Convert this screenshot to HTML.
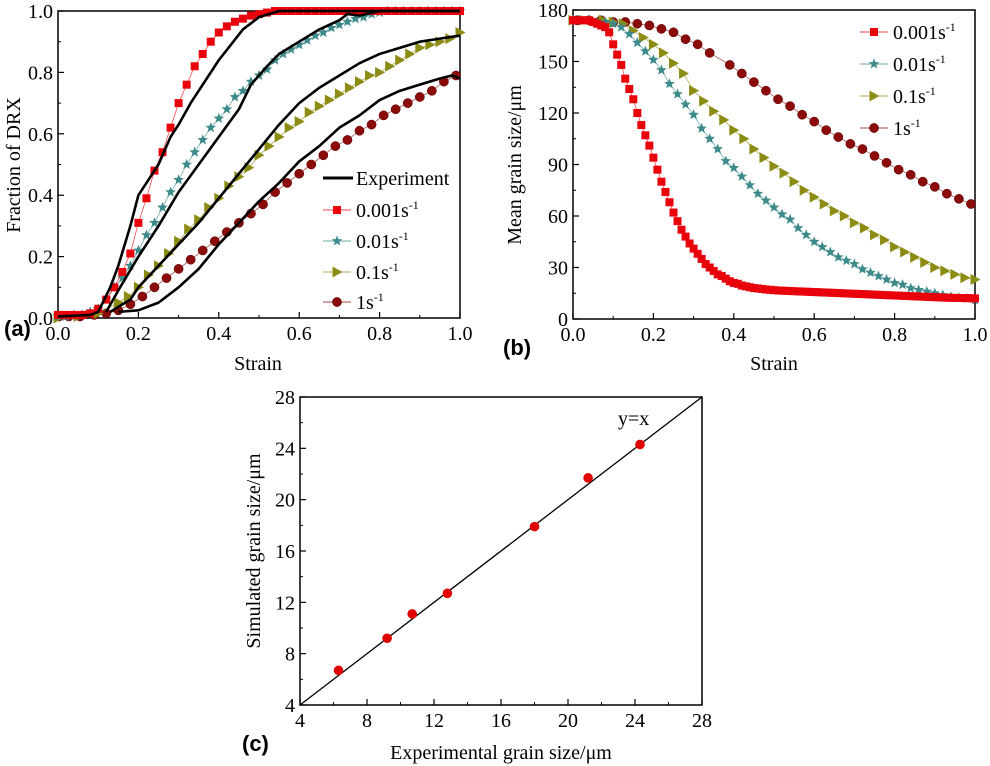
<!DOCTYPE html>
<html><head><meta charset="utf-8"><style>
body{margin:0;background:#fff;}
svg{display:block;font-family:"Liberation Serif",serif;}
</style></head><body>
<svg id="s" width="990" height="766" viewBox="0 0 990 766"></svg>
<script>
// ---------- Panel (a) data ----------
const aRedX=[0,0.02,0.04,0.06,0.08,0.10,0.12,0.14,0.16,0.18,0.20,0.22,0.24,0.26,0.28,0.30,0.32,0.34,0.36,0.38,0.40,0.42,0.44,0.46,0.48,0.50,0.52,0.54,0.56,0.58,0.60,0.62,0.64,0.66,0.68,0.70,0.72,0.74,0.76,0.78,0.80,0.82,0.84,0.86,0.88,0.90,0.92,0.94,0.96,0.98,1.0];
const aRedY=[0.01,0.01,0.01,0.01,0.015,0.03,0.06,0.1,0.15,0.21,0.31,0.39,0.48,0.54,0.62,0.70,0.76,0.82,0.86,0.90,0.93,0.95,0.965,0.975,0.985,0.99,0.995,1,1,1,1,1,1,1,1,1,1,1,1,1,1,1,1,1,1,1,1,1,1,1,1];
const aTealX=[0,0.02,0.04,0.06,0.08,0.10,0.12,0.14,0.16,0.18,0.20,0.22,0.24,0.26,0.28,0.30,0.32,0.34,0.36,0.38,0.40,0.42,0.44,0.46,0.48,0.50,0.52,0.54,0.56,0.58,0.60,0.62,0.64,0.66,0.68,0.70,0.72,0.74,0.76,0.78,0.80,0.82,0.84,0.86,0.88,0.90,0.92,0.94,0.96,0.98,1.0];
const aTealY=[0.005,0.005,0.01,0.01,0.02,0.03,0.06,0.1,0.13,0.17,0.22,0.27,0.31,0.36,0.41,0.45,0.5,0.54,0.58,0.62,0.65,0.68,0.72,0.74,0.77,0.79,0.81,0.84,0.86,0.875,0.89,0.905,0.92,0.93,0.945,0.955,0.965,0.975,0.98,0.99,0.995,1,1,1,1,1,1,1,1,1,1];
const aOliveX=[0,0.05,0.1,0.15,0.175,0.2,0.225,0.25,0.275,0.3,0.325,0.35,0.375,0.4,0.425,0.45,0.475,0.5,0.525,0.55,0.575,0.6,0.625,0.65,0.675,0.7,0.725,0.75,0.775,0.8,0.825,0.85,0.875,0.9,0.925,0.95,0.975,1.0];
const aOliveY=[0,0.005,0.015,0.05,0.07,0.1,0.14,0.17,0.21,0.25,0.29,0.32,0.36,0.39,0.43,0.46,0.49,0.53,0.56,0.59,0.62,0.64,0.67,0.69,0.71,0.73,0.75,0.77,0.79,0.8,0.82,0.84,0.86,0.88,0.89,0.9,0.91,0.93];
const aBrownX=[0.003,0.027,0.055,0.09,0.12,0.15,0.18,0.21,0.24,0.27,0.3,0.33,0.36,0.39,0.42,0.45,0.48,0.51,0.54,0.57,0.6,0.63,0.66,0.69,0.72,0.75,0.78,0.81,0.84,0.87,0.9,0.93,0.96,0.99];
const aBrownY=[0.005,0.005,0.005,0.01,0.015,0.025,0.045,0.07,0.1,0.13,0.16,0.19,0.22,0.25,0.28,0.31,0.34,0.37,0.41,0.44,0.47,0.5,0.53,0.56,0.58,0.61,0.63,0.66,0.68,0.7,0.72,0.74,0.77,0.79];
const e1X=[0,0.08,0.1,0.13,0.15,0.18,0.2,0.22,0.25,0.28,0.3,0.33,0.36,0.4,0.43,0.46,0.5,0.55,1.0];
const e1Y=[0.005,0.01,0.02,0.1,0.17,0.3,0.4,0.44,0.5,0.59,0.63,0.7,0.76,0.84,0.89,0.94,0.98,1.0,1.0];
const e2X=[0.12,0.15,0.2,0.25,0.3,0.35,0.4,0.45,0.48,0.52,0.55,0.6,0.65,0.7,0.72,0.75,0.8,1.0];
const e2Y=[0.02,0.09,0.2,0.3,0.41,0.5,0.59,0.68,0.76,0.82,0.86,0.9,0.94,0.97,0.99,0.985,1.0,1.0];
const e3X=[0.13,0.18,0.2,0.25,0.3,0.35,0.4,0.45,0.5,0.55,0.6,0.65,0.7,0.75,0.8,0.85,0.9,0.95,1.0];
const e3Y=[0.02,0.06,0.1,0.17,0.24,0.31,0.39,0.47,0.55,0.63,0.7,0.75,0.79,0.83,0.86,0.88,0.9,0.91,0.92];
const e4X=[0.15,0.2,0.25,0.3,0.35,0.4,0.45,0.5,0.55,0.6,0.65,0.7,0.75,0.8,0.85,0.9,0.95,0.98,1.0];
const e4Y=[0.02,0.025,0.05,0.1,0.16,0.24,0.31,0.38,0.44,0.51,0.56,0.62,0.66,0.71,0.74,0.76,0.78,0.79,0.78];
const aXTicks=["0.0","0.2","0.4","0.6","0.8","1.0"];
const aYTicks=["0.0","0.2","0.4","0.6","0.8","1.0"];
// ---------- Panel (b) data ----------
const bRedX=[0,0.01,0.02,0.03,0.04,0.05,0.06,0.07,0.08,0.09,0.10,0.11,0.12,0.13,0.14,0.15,0.16,0.17,0.18,0.19,0.20,0.21,0.22,0.23,0.24,0.25,0.26,0.27,0.28,0.29,0.30,0.31,0.32,0.33,0.34,0.35,0.36,0.37,0.38,0.39,0.40,0.41,0.42,0.43,0.44,0.45,0.46,0.47,0.48,0.49,0.50,0.51,0.52,0.53,0.54,0.55,0.56,0.57,0.58,0.59,0.60,0.61,0.62,0.63,0.64,0.65,0.66,0.67,0.68,0.69,0.70,0.71,0.72,0.73,0.74,0.75,0.76,0.77,0.78,0.79,0.80,0.81,0.82,0.83,0.84,0.85,0.86,0.87,0.88,0.89,0.90,0.91,0.92,0.93,0.94,0.95,0.96,0.97,0.98,0.99,1.0];
const bRedY=[174,174,174,174,174,173,172,171,170,167,160,154,148,140,134,128,120,113,107,101,94,87,80,74,68,62,57,52,48,44,41,38,35,32,30,28,26,25,23.5,22,21,20.5,19.5,19,18.5,18,17.8,17.5,17.2,17,16.8,16.6,16.5,16.4,16.3,16.2,16.1,16,15.9,15.8,15.7,15.6,15.5,15.4,15.3,15.2,15.1,15,14.9,14.8,14.7,14.6,14.5,14.4,14.3,14.2,14.1,14,13.9,13.8,13.7,13.6,13.5,13.4,13.3,13.2,13.1,13,12.9,12.8,12.7,12.6,12.5,12.4,12.35,12.3,12.25,12.2,12.15,12.1,12.0];
const bTealX=[0,0.02,0.04,0.06,0.08,0.10,0.12,0.14,0.16,0.18,0.20,0.22,0.24,0.26,0.28,0.30,0.32,0.34,0.36,0.38,0.40,0.42,0.44,0.46,0.48,0.50,0.52,0.54,0.56,0.58,0.60,0.62,0.64,0.66,0.68,0.70,0.72,0.74,0.76,0.78,0.80,0.82,0.84,0.86,0.88,0.90,0.92,0.94,0.96,0.98,1.0];
const bTealY=[174,174,174,173,173,172,170,166,161,156,151,145,137,131,125,119,111,105,99,92,88,83,78,73,69,65,61,58,53,49,45,42,39,36,34,32,29,27,25,23,21,20,18,17,16,15,14,13,12.5,12,11];
const bOliveX=[0,0.025,0.05,0.075,0.1,0.125,0.15,0.175,0.2,0.225,0.25,0.275,0.3,0.325,0.35,0.375,0.4,0.425,0.45,0.475,0.5,0.525,0.55,0.575,0.6,0.625,0.65,0.675,0.7,0.725,0.75,0.775,0.8,0.825,0.85,0.875,0.9,0.925,0.95,0.975,1.0];
const bOliveY=[174,174,174,174,173,172,168,164,160,155,149,143,133,127,121,116,110,105,99,94,89,85,80,75,71,67,63,60,56,53,49,46,42,39,36,33,30,28,26,24,23];
const bBrownX=[0.01,0.04,0.07,0.1,0.13,0.16,0.19,0.22,0.25,0.28,0.31,0.34,0.39,0.42,0.45,0.48,0.51,0.54,0.57,0.6,0.63,0.66,0.69,0.72,0.75,0.78,0.81,0.84,0.87,0.9,0.93,0.96,0.99];
const bBrownY=[174,174,174,173,173,172,171,169,167,163,160,155,148,143,138,133,128,124,119,115,110,106,102,99,95,91,87,84,80,77,73,70,67];
const bXTicks=["0.0","0.2","0.4","0.6","0.8","1.0"];
const bYTicks=["0","30","60","90","120","150","180"];
// ---------- Panel (c) data ----------
const cExp=[6.3,9.2,10.7,12.8,18.0,21.2,24.3];
const cSim=[6.7,9.2,11.1,12.7,17.9,21.7,24.3];
const cTicks=["4","8","12","16","20","24","28"];

const NS="http://www.w3.org/2000/svg";
const svg=document.getElementById('s');
function el(tag,attrs,parent,text){const e=document.createElementNS(NS,tag);for(const k in attrs)e.setAttribute(k,attrs[k]);if(text!==undefined)e.textContent=text;(parent||svg).appendChild(e);return e;}
const RED="#e8000b",TEAL="#3d8a8a",OLIVE="#8c8c14",BROWN="#8b0a0a";

function axes(g,L,R,T,B,xt,yt,minorX,minorY){
  el('rect',{x:L,y:T,width:R-L,height:B-T,fill:'none',stroke:'#000','stroke-width':1.5},g);
  const nx=xt.length-1,ny=yt.length-1;
  for(let i=0;i<=nx;i++){const x=L+(R-L)*i/nx;
    el('line',{x1:x,y1:B,x2:x,y2:B-6,stroke:'#000','stroke-width':1.2},g);
    if(i<nx&&minorX){const xm=x+(R-L)/nx/2;el('line',{x1:xm,y1:B,x2:xm,y2:B-3,stroke:'#000','stroke-width':1},g);}
    const t=el('text',{x:x,y:B+22,'font-size':20,'text-anchor':'middle'},g,xt[i]);
    }
  for(let i=0;i<=ny;i++){const y=B-(B-T)*i/ny;
    el('line',{x1:L,y1:y,x2:L+6,y2:y,stroke:'#000','stroke-width':1.2},g);
    if(i<ny&&minorY){const ym=y-(B-T)/ny/2;el('line',{x1:L,y1:ym,x2:L+3,y2:ym,stroke:'#000','stroke-width':1},g);}
    const t=el('text',{x:L-5,y:y+7,'font-size':20,'text-anchor':'end'},g,yt[i]);
    }
}
function mk(shape,g,x,y,c){
  if(shape==='sq')return el('rect',{x:x-4,y:y-4,width:8,height:8,fill:c},g);
  if(shape==='ci')return el('circle',{cx:x,cy:y,r:4.6,fill:c,stroke:'#5a0000','stroke-width':0.5},g);
  if(shape==='tr')return el('polygon',{points:`${x-4.5},${y-5.5} ${x+5.5},${y} ${x-4.5},${y+5.5}`,fill:c},g);
  if(shape==='st'){let p=[];for(let k=0;k<10;k++){const r=k%2?2.4:5.6,a=-Math.PI/2+k*Math.PI/5;p.push((x+r*Math.cos(a)).toFixed(1)+','+(y+r*Math.sin(a)).toFixed(1));}return el('polygon',{points:p.join(' '),fill:c},g);}
}
function series(g,xs,ys,sx,sy,shape,c,name){
  const sg=el('g',{},g);
  el('polyline',{points:xs.map((v,i)=>sx(v)+','+sy(ys[i])).join(' '),fill:'none',stroke:c,'stroke-width':0.8,opacity:0.7},sg);
  xs.forEach((v,i)=>{const m=mk(shape,sg,sx(v),sy(ys[i]),c);});
}
function line(g,xs,ys,sx,sy,name){
  const p=el('polyline',{points:xs.map((v,i)=>sx(v)+','+sy(ys[i])).join(' '),fill:'none',stroke:'#000','stroke-width':2.6,'stroke-linejoin':'round'},g);
  
}
function legendEntry(g,x,y,shape,c,label,sup,name){
  const lg=el('g',{},g);
  if(shape==='line')el('line',{x1:x,y1:y,x2:x+30,y2:y,stroke:'#000','stroke-width':3},lg);
  else{el('line',{x1:x,y1:y,x2:x+28,y2:y,stroke:c,'stroke-width':0.8},lg);mk(shape,lg,x+14,y,c);}
  const t=el('text',{x:x+33,y:y+7,'font-size':20},lg,label);
  if(sup)el('tspan',{dy:-8,'font-size':12},t,sup);
}
function txt(g,x,y,s,attrs,name){const t=el('text',Object.assign({x:x,y:y,'font-size':20},attrs||{}),g,s);return t;}

// Panel a
{const g=el('g',{});
const L=58,R=460,T=11,B=318;const sx=v=>L+(R-L)*v,sy=v=>B-(B-T)*v;
axes(g,L,R,T,B,aXTicks,aYTicks,true,true);
series(g,aBrownX,aBrownY,sx,sy,'ci',BROWN,'series-1s');
series(g,aOliveX,aOliveY,sx,sy,'tr',OLIVE,'series-0.1s');
series(g,aTealX,aTealY,sx,sy,'st',TEAL,'series-0.01s');
series(g,aRedX,aRedY,sx,sy,'sq',RED,'series-0.001s');
line(g,e1X,e1Y,sx,sy,'experiment-0.001s');line(g,e2X,e2Y,sx,sy,'experiment-0.01s');
line(g,e3X,e3Y,sx,sy,'experiment-0.1s');line(g,e4X,e4Y,sx,sy,'experiment-1s');
const lg=el('g',{},g);
legendEntry(lg,323,178,'line','#000','Experiment','', 'legend-experiment');
legendEntry(lg,323,210,'sq',RED,'0.001s','-1','legend-0.001s');
legendEntry(lg,323,241,'st',TEAL,'0.01s','-1','legend-0.01s');
legendEntry(lg,323,272,'tr',OLIVE,'0.1s','-1','legend-0.1s');
legendEntry(lg,323,302,'ci',BROWN,'1s','-1','legend-1s');
txt(g,20,165,'Fraction of DRX',{transform:'rotate(-90 20 165)','text-anchor':'middle'},'y-axis-title-a');
txt(g,258,370,'Strain',{'text-anchor':'middle'},'x-axis-title-a');
txt(g,4,336,'(a)',{'font-family':'Liberation Sans,sans-serif','font-weight':'bold','font-size':22},'panel-label-a');}

// Panel b
{const g=el('g',{});
const L=573,R=975,T=10,B=319;const sx=v=>L+(R-L)*v,sy=v=>B-(B-T)*v/180;
axes(g,L,R,T,B,bXTicks,bYTicks,true,true);
series(g,bBrownX,bBrownY,sx,sy,'ci',BROWN,'series-1s');
series(g,bOliveX,bOliveY,sx,sy,'tr',OLIVE,'series-0.1s');
series(g,bTealX,bTealY,sx,sy,'st',TEAL,'series-0.01s');
series(g,bRedX,bRedY,sx,sy,'sq',RED,'series-0.001s');
const lg=el('g',{},g);
legendEntry(lg,860,32,'sq',RED,'0.001s','-1','legend-0.001s');
legendEntry(lg,860,64,'st',TEAL,'0.01s','-1','legend-0.01s');
legendEntry(lg,860,96,'tr',OLIVE,'0.1s','-1','legend-0.1s');
legendEntry(lg,860,128,'ci',BROWN,'1s','-1','legend-1s');
txt(g,521,165,'Mean grain size/μm',{transform:'rotate(-90 521 165)','text-anchor':'middle'},'y-axis-title-b');
txt(g,774,370,'Strain',{'text-anchor':'middle'},'x-axis-title-b');
txt(g,503,355,'(b)',{'font-family':'Liberation Sans,sans-serif','font-weight':'bold','font-size':22},'panel-label-b');}

// Panel c
{const g=el('g',{});
const L=300,R=702,T=397,B=705;const sx=v=>L+(R-L)*(v-4)/24,sy=v=>B-(B-T)*(v-4)/24;
axes(g,L,R,T,B,cTicks,cTicks,true,true);
const d=el('line',{x1:sx(4),y1:sy(4),x2:sx(28),y2:sy(28),stroke:'#000','stroke-width':1.3},g);

cExp.forEach((v,i)=>{const c=el('circle',{cx:sx(v),cy:sy(cSim[i]),r:4.8,fill:'#e00000'},g);
});
txt(g,618,425,'y=x',{},'y-equals-x-label');
txt(g,260,551,'Simulated grain size/μm',{transform:'rotate(-90 260 551)','text-anchor':'middle'},'y-axis-title-c');
txt(g,501,759,'Experimental grain size/μm',{'text-anchor':'middle'},'x-axis-title-c');
txt(g,242,751,'(c)',{'font-family':'Liberation Sans,sans-serif','font-weight':'bold','font-size':22},'panel-label-c');}
</script>
</body></html>
